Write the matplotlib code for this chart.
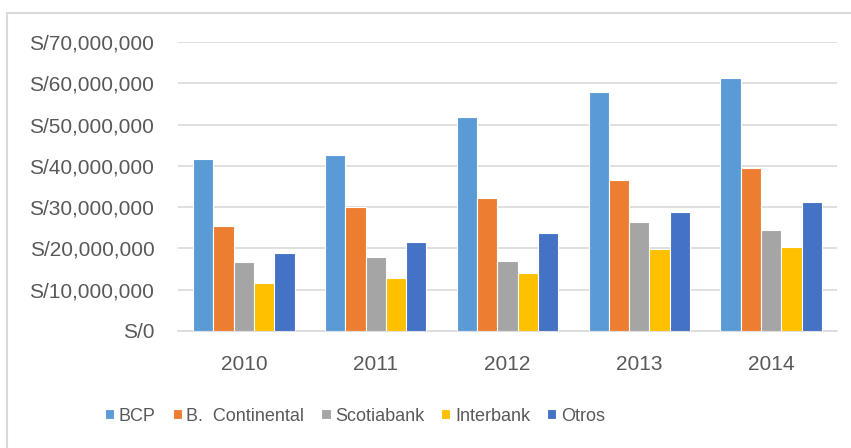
import matplotlib.pyplot as plt
import matplotlib.ticker as ticker
import matplotlib.patches as patches
import numpy as np

plt.rcParams['font.family'] = ['Liberation Sans', 'DejaVu Sans']

years = ['2010', '2011', '2012', '2013', '2014']
bancos = ['BCP', 'B.  Continental', 'Scotiabank', 'Interbank', 'Otros']
bcp = [41.6, 42.6, 51.9, 57.8, 61.2]
continental = [25.4, 30.0, 32.2, 36.6, 39.4]
scotiabank = [16.6, 17.9, 17.0, 26.3, 24.5]
interbank = [11.6, 12.9, 14.1, 19.8, 20.4]
otros = [18.8, 21.6, 23.8, 28.8, 31.3]
colores = ['#5B9BD5', '#ED7D31', '#A5A5A5', '#FFC000', '#4472C4']

series = [bcp, continental, scotiabank, interbank, otros]

def formatter(y, pos):
    return 'S/' + format(int(round(y)), ',')

fig = plt.figure(figsize=(8.51, 4.48), dpi=100)
ax = fig.add_axes([178/851, 1-331/448, (837-178)/851, (331-42)/448])

x = np.arange(len(years))
w = 0.154
for i, s in enumerate(series):
    vals = np.array(s) * 1e6
    ax.bar(x + (i - 2) * w, vals, w, color=colores[i], edgecolor='white',
           linewidth=0.8, label=bancos[i], zorder=3)

ax.set_xlim(-0.5, 4.5)
ax.set_ylim(0, 70e6)
ax.yaxis.set_major_locator(ticker.MultipleLocator(10e6))
ax.yaxis.set_major_formatter(ticker.FuncFormatter(formatter))
ax.set_xticks(x)
ax.set_xticklabels(years)
ax.grid(axis='y', color='#D9D9D9', lw=1.2, zorder=0)
for sp in ['top', 'right', 'left']:
    ax.spines[sp].set_visible(False)
ax.spines['bottom'].set_color('#D9D9D9')
ax.spines['bottom'].set_linewidth(1.2)
ax.tick_params(axis='both', length=0, labelsize=15, colors='#595959')
ax.tick_params(axis='y', pad=17)
ax.tick_params(axis='x', pad=17)

fig.legend(loc='center', bbox_to_anchor=(355/851, 1-416/448), ncol=5, frameon=False,
           fontsize=13, labelcolor='#595959', handlelength=0.5, handleheight=0.5,
           handletextpad=0.25, columnspacing=0.95)

fig.patches.append(patches.Rectangle((7/851, -0.1), 1.1, 1-13/448+0.1, transform=fig.transFigure,
                                     fill=False, edgecolor='#D9D9D9', lw=1.5))

fig.savefig('out.png', dpi=100)
